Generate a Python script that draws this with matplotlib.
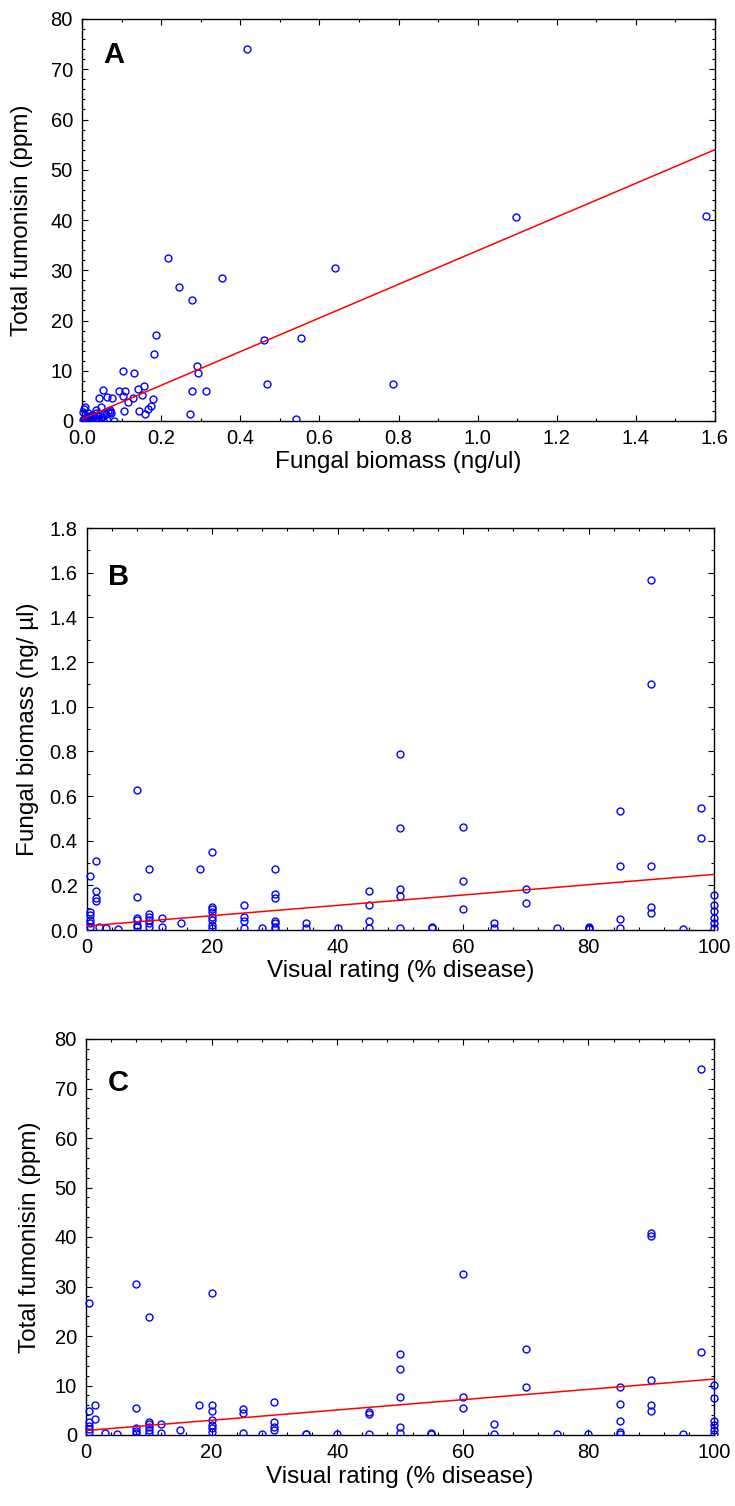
import matplotlib
matplotlib.use("Agg")
import matplotlib.pyplot as plt
from matplotlib.ticker import MultipleLocator, FormatStrFormatter
from matplotlib.transforms import Bbox, TransformedBbox

plt.rcParams['font.family'] = ['Liberation Sans', 'DejaVu Sans']

# ---------------- Panel A: fungal biomass vs total fumonisin ----------------
a_biomass = [0.417, 1.097, 1.577, 0.217, 0.64, 0.354, 0.246, 0.277, 0.186, 0.461,
             0.553, 0.183, 0.291, 0.294, 0.103, 0.131, 0.468, 0.786, 0.277, 0.314,
             0.274, 0.542, 0.052, 0.094, 0.108, 0.043, 0.062, 0.076, 0.103, 0.142,
             0.156, 0.152, 0.13, 0.117, 0.179, 0.174, 0.166, 0.158, 0.143, 0.106,
             0.008, 0.035, 0.047, 0.071, 0.073, 0.082,
             0.002, 0.005, 0.008, 0.01, 0.012, 0.015, 0.018, 0.02, 0.022, 0.025,
             0.028, 0.03, 0.033, 0.035, 0.038, 0.04, 0.045, 0.05, 0.055, 0.06,
             0.065, 0.07, 0.003, 0.006, 0.014, 0.024, 0.032, 0.042, 0.052, 0.062]
a_fumonisin = [74.0, 40.5, 40.8, 32.4, 30.4, 28.4, 26.6, 24.0, 17.1, 16.2,
               16.5, 13.3, 10.9, 9.5, 9.9, 9.5, 7.4, 7.4, 5.9, 5.9,
               1.45, 0.46, 6.2, 5.9, 6.0, 4.6, 4.8, 4.6, 5.0, 6.4,
               7.0, 5.1, 4.6, 3.8, 4.4, 3.0, 2.4, 1.45, 2.0, 2.0,
               2.8, 2.2, 2.8, 2.2, 1.5, 0.06,
               0.1, 0.3, 0.5, 0.2, 0.8, 0.4, 1.0, 0.6, 0.3, 1.2,
               0.7, 0.9, 0.5, 1.5, 1.1, 0.4, 1.3, 0.8, 1.6, 1.4,
               1.9, 1.7, 1.8, 2.4, 1.6, 0.2, 0.1, 0.3, 0.2, 0.1]
a_fit = (0.4, 33.5)  # intercept, slope

# ---------------- Panel B: visual rating vs fungal biomass ----------------
b_rating = ([0.5] * 6 + [1.5] * 4 + [2, 3, 5] + [8] * 6 + [10] * 6 + [12] * 2 + [15, 18]
            + [20] * 8 + [25] * 4 + [28] + [30] * 7 + [35] * 2 + [40] + [45] * 4
            + [50] * 5 + [55] * 2 + [60] * 3 + [65] * 2 + [70] * 2 + [75] + [80] * 3
            + [85] * 4 + [90] * 5 + [95] + [98] * 2 + [100] * 6)
b_biomass = ([0.243, 0.082, 0.067, 0.045, 0.03, 0.015] + [0.309, 0.175, 0.142, 0.13]
             + [0.015, 0.01, 0.003]
             + [0.627, 0.146, 0.055, 0.045, 0.022, 0.012]
             + [0.273, 0.072, 0.06, 0.045, 0.03, 0.015]
             + [0.055, 0.015] + [0.033, 0.273]
             + [0.349, 0.104, 0.094, 0.082, 0.06, 0.045, 0.022, 0.008]
             + [0.112, 0.06, 0.04, 0.008] + [0.01]
             + [0.273, 0.16, 0.142, 0.042, 0.03, 0.015, 0.003]
             + [0.03, 0.008] + [0.01]
             + [0.175, 0.112, 0.042, 0.01]
             + [0.788, 0.458, 0.184, 0.152, 0.01]
             + [0.015, 0.007] + [0.463, 0.218, 0.094] + [0.033, 0.007]
             + [0.182, 0.122] + [0.007] + [0.015, 0.01, 0.005]
             + [0.534, 0.287, 0.048, 0.007]
             + [1.567, 1.10, 0.287, 0.104, 0.075] + [0.005]
             + [0.548, 0.413]
             + [0.155, 0.112, 0.085, 0.052, 0.03, 0.01])
b_fit = (0.018, 0.00231)

# ---------------- Panel C: visual rating vs total fumonisin ----------------
c_rating = ([0.5] * 6 + [1.5] * 2 + [3, 5] + [8] * 5 + [10] * 6 + [12] * 2 + [15, 18]
            + [20] * 7 + [25] * 3 + [28] + [30] * 4 + [35] * 2 + [40] + [45] * 3
            + [50] * 5 + [55] * 2 + [60] * 3 + [65] * 2 + [70] * 2 + [75, 80]
            + [85] * 5 + [90] * 5 + [95] + [98] * 2 + [100] * 6)
c_fumonisin = ([26.7, 4.9, 2.6, 1.9, 1.2, 0.7] + [6.0, 3.2] + [0.4, 0.2]
               + [30.5, 5.4, 1.35, 0.9, 0.5]
               + [23.9, 2.7, 2.2, 1.55, 1.1, 0.5]
               + [2.3, 0.5] + [1.1, 6.0]
               + [28.6, 6.0, 4.8, 3.1, 2.1, 1.4, 0.7]
               + [5.2, 4.4, 0.5] + [0.3]
               + [6.6, 2.7, 1.7, 1.1] + [0.3, 0.2] + [0.3]
               + [4.6, 4.2, 0.3]
               + [16.3, 13.4, 7.6, 1.7, 0.5]
               + [0.5, 0.3] + [32.5, 7.6, 5.4] + [2.2, 0.3]
               + [17.3, 9.7] + [0.3, 0.3]
               + [9.7, 6.2, 2.9, 0.7, 0.3]
               + [40.8, 40.3, 11.1, 6.1, 4.8] + [0.3]
               + [73.9, 16.7]
               + [10.1, 7.4, 2.9, 2.0, 1.0, 0.3])
c_fit = (0.9, 0.104)

fig = plt.figure(figsize=(7.35, 15.06), dpi=100)

panels = [
    dict(rect=[82 / 735, 1 - 421 / 1506, 633 / 735, 402 / 1506],
         x=a_biomass, y=a_fumonisin, fit=a_fit, xlim=(0, 1.6), ylim=(0, 80),
         xmaj=0.2, xmin=0.1, ymaj=10, ymin=2, xfmt='%.1f', yfmt='%d',
         xlabel='Fungal biomass (ng/ul)', ylabel='Total fumonisin (ppm)',
         letter='A', letter_y=0.91, ylab_x=-0.095, xlab_y=-(462 - 421) / 402),
    dict(rect=[86.7 / 735, 1 - 930 / 1506, 627.3 / 735, 402 / 1506],
         x=b_rating, y=b_biomass, fit=b_fit, xlim=(0, 100), ylim=(0, 1.8),
         xmaj=20, xmin=4, ymaj=0.2, ymin=0.1, xfmt='%d', yfmt='%.1f',
         xlabel='Visual rating (% disease)', ylabel='Fungal biomass (ng/ µl)',
         letter='B', letter_y=0.878, ylab_x=-0.094, xlab_y=-(971 - 930) / 402),
    dict(rect=[86 / 735, 1 - 1435 / 1506, 628 / 735, 396 / 1506],
         x=c_rating, y=c_fumonisin, fit=c_fit, xlim=(0, 100), ylim=(0, 80),
         xmaj=20, xmin=4, ymaj=10, ymin=2, xfmt='%d', yfmt='%d',
         xlabel='Visual rating (% disease)', ylabel='Total fumonisin (ppm)',
         letter='C', letter_y=0.889, ylab_x=-0.089, xlab_y=-(1477 - 1435) / 396),
]

for p in panels:
    ax = fig.add_axes(p['rect'])
    pts, = ax.plot(p['x'], p['y'], linestyle='none', marker='o', markersize=5,
                   markerfacecolor='none', markeredgecolor='#0000ff',
                   markeredgewidth=1.0, zorder=3)
    clip = TransformedBbox(Bbox([[-0.03, 0.0], [1.03, 1.03]]), ax.transAxes)
    pts.set_clip_box(clip)
    b0, b1 = p['fit']
    x0, x1 = p['xlim']
    ax.plot([x0, x1], [b0 + b1 * x0, b0 + b1 * x1], color='#ff0000', lw=1.1, zorder=4)
    ax.set_xlim(*p['xlim'])
    ax.set_ylim(*p['ylim'])
    ax.xaxis.set_major_locator(MultipleLocator(p['xmaj']))
    ax.xaxis.set_minor_locator(MultipleLocator(p['xmin']))
    ax.yaxis.set_major_locator(MultipleLocator(p['ymaj']))
    ax.yaxis.set_minor_locator(MultipleLocator(p['ymin']))
    ax.xaxis.set_major_formatter(FormatStrFormatter(p['xfmt']))
    ax.yaxis.set_major_formatter(FormatStrFormatter(p['yfmt']))
    ax.tick_params(which='both', direction='in', top=True, right=True,
                   labelsize=14.5, width=0.8)
    ax.tick_params(axis='x', which='major', pad=5.5)
    ax.tick_params(axis='y', which='major', pad=6.5)
    ax.tick_params(which='major', length=4)
    ax.tick_params(which='minor', length=2)
    for s in ax.spines.values():
        s.set_linewidth(1.0)
    ax.set_xlabel(p['xlabel'], fontsize=17.5, va='center')
    ax.set_ylabel(p['ylabel'], fontsize=17.5, va='center')
    ax.xaxis.set_label_coords(0.5, p['xlab_y'])
    ax.yaxis.set_label_coords(p['ylab_x'], 0.5)
    ax.text(0.034, p['letter_y'], p['letter'], transform=ax.transAxes,
            fontsize=21, fontweight='bold', ha='left', va='center')

fig.savefig('out.png', dpi=100)
